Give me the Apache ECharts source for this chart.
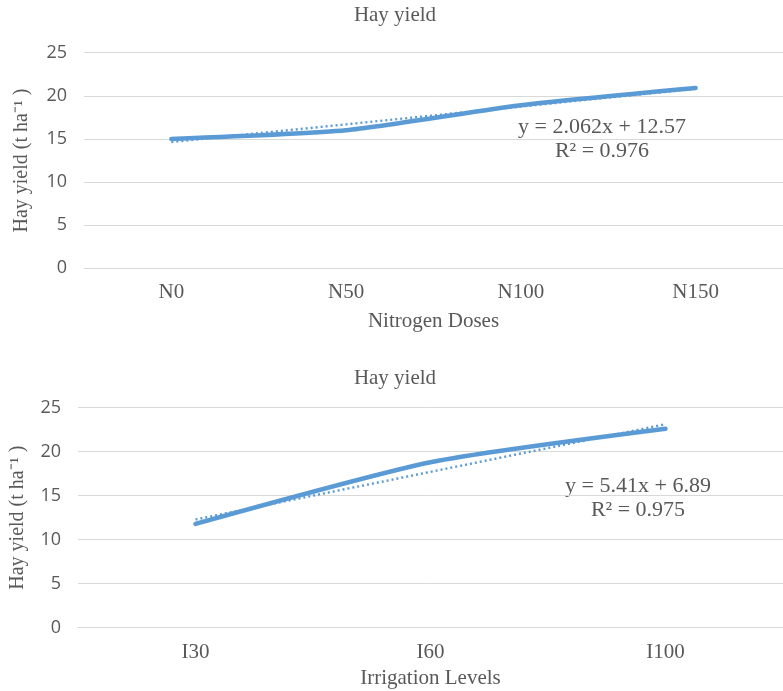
<!DOCTYPE html>
<html>
<head>
<meta charset="utf-8">
<script src="https://cdn.jsdelivr.net/npm/echarts@6/dist/echarts.min.js"></script>
<style>
  html, body { margin: 0; padding: 0; background: #fff; }
  #chart { width: 783px; height: 691px; }
</style>
</head>
<body>
<div id="chart"></div>
<script>
// Hay yield response to nitrogen dose and irrigation level
const nitrogenDoses = ['N0', 'N50', 'N100', 'N150'];
const nitrogenHay = [15.0, 16.0, 18.9, 20.9];
const nitrogenTrend = [2.062, 12.57];   // slope, intercept
const nitrogenR2 = 0.976;

const irrigationLevels = ['I30', 'I60', 'I100'];
const irrigationHay = [11.8, 18.8, 22.6];
const irrigationTrend = [5.41, 6.89];   // slope, intercept
const irrigationR2 = 0.975;

const yTicks = [0, 5, 10, 15, 20, 25];

const BLUE = '#5B9BD5';
const TEXT = '#595959';
const GRID = '#d9d9d9';
const SERIF = '"Liberation Serif", "Times New Roman", serif';
const SANS = '"Open Sans", "Liberation Sans", sans-serif';

// Linear trend evaluated at category positions 1..n
function trendValues(cats, coef) {
  return cats.map((c, i) => +(coef[0] * (i + 1) + coef[1]).toFixed(3));
}

function xAxisFor(gridIndex, cats, name, gap) {
  return {
    type: 'category', gridIndex, data: cats, boundaryGap: true,
    name, nameLocation: 'middle', nameGap: gap,
    nameTextStyle: { fontFamily: SERIF, fontSize: 21, color: TEXT },
    axisLine: { show: true, lineStyle: { color: GRID, width: 1 } },
    axisTick: { show: false },
    axisLabel: { fontFamily: SERIF, fontSize: 21, color: TEXT, margin: 14 },
    splitLine: { show: false }
  };
}

function yAxisFor(gridIndex, gap) {
  return {
    type: 'value', gridIndex,
    min: yTicks[0], max: yTicks[yTicks.length - 1], interval: yTicks[1] - yTicks[0],
    name: 'Hay yield (t ha\u207B\u00B9 )', nameLocation: 'middle', nameGap: gap, nameRotate: 90,
    nameTextStyle: { fontFamily: SERIF, fontSize: 20, color: TEXT },
    axisLine: { show: false }, axisTick: { show: false },
    axisLabel: { fontFamily: SANS, fontSize: 18, color: TEXT, margin: 17 },
    splitLine: { show: true, lineStyle: { color: GRID, width: 1 } }
  };
}

function dataSeries(idx, values) {
  return {
    type: 'line', xAxisIndex: idx, yAxisIndex: idx, data: values,
    smooth: 0.2, symbol: 'none', z: 3,
    lineStyle: { color: BLUE, width: 4.5, cap: 'round' }
  };
}

function trendSeries(idx, values) {
  return {
    type: 'line', xAxisIndex: idx, yAxisIndex: idx, data: values,
    symbol: 'none', z: 2,
    lineStyle: { color: BLUE, width: 2.4, type: [2, 3] }
  };
}

function textEl(x, y, str, size) {
  return {
    type: 'text', x, y,
    style: { text: str, fontFamily: SERIF, fontSize: size, fill: TEXT, align: 'center', verticalAlign: 'middle' }
  };
}

const chart = echarts.init(document.getElementById('chart'), null, { renderer: 'canvas' });

chart.setOption({
  animation: false,
  backgroundColor: '#fff',
  grid: [
    { left: 84, top: 52.7, width: 700, height: 215.6 },
    { left: 77, top: 407.7, width: 717, height: 220 }
  ],
  xAxis: [
    xAxisFor(0, nitrogenDoses, 'Nitrogen Doses', 43),
    xAxisFor(1, irrigationLevels, 'Irrigation Levels', 40)
  ],
  yAxis: [yAxisFor(0, 52), yAxisFor(1, 50)],
  series: [
    trendSeries(0, trendValues(nitrogenDoses, nitrogenTrend)),
    dataSeries(0, nitrogenHay),
    trendSeries(1, trendValues(irrigationLevels, irrigationTrend)),
    dataSeries(1, irrigationHay)
  ],
  graphic: [
    textEl(395, 15, 'Hay yield', 21),
    textEl(395, 378, 'Hay yield', 21),
    textEl(602, 127, 'y = ' + nitrogenTrend[0] + 'x + ' + nitrogenTrend[1], 22),
    textEl(602, 151, 'R\u00B2 = ' + nitrogenR2, 22),
    textEl(638, 486, 'y = ' + irrigationTrend[0] + 'x + ' + irrigationTrend[1], 22),
    textEl(638, 510, 'R\u00B2 = ' + irrigationR2, 22)
  ]
});
</script>
</body>
</html>
